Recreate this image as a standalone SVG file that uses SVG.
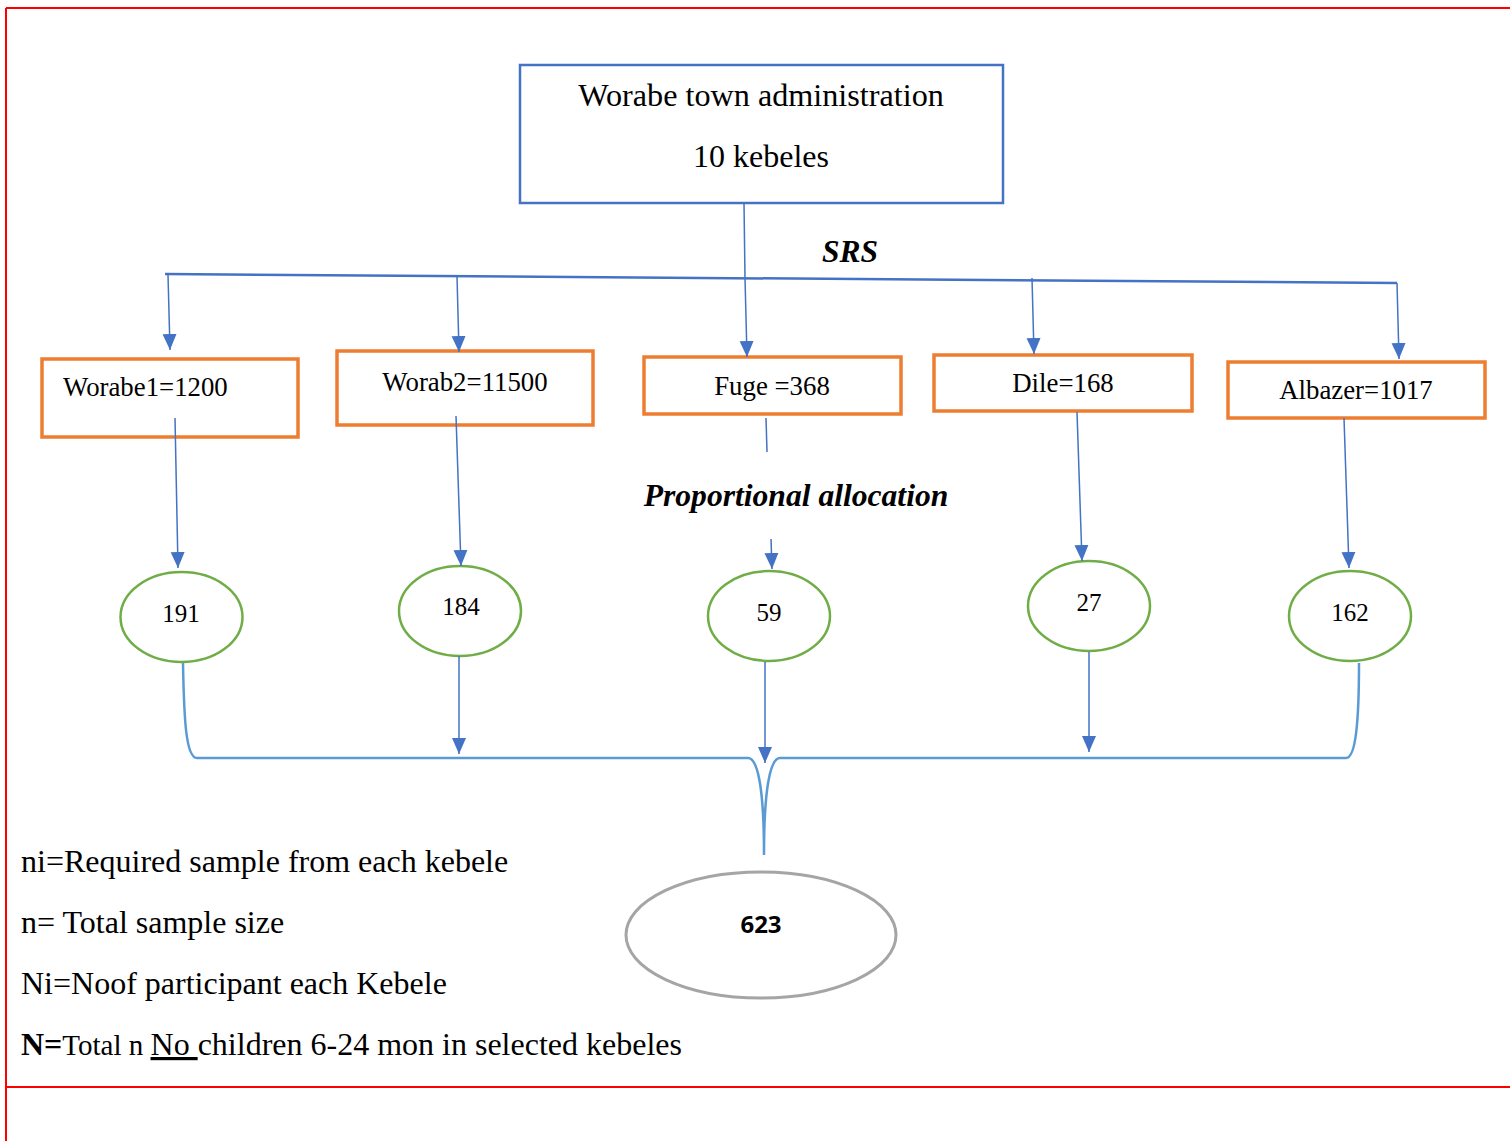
<svg xmlns="http://www.w3.org/2000/svg" width="1510" height="1141" viewBox="0 0 1510 1141">
<style>
.t{font-family:"Liberation Serif","Times New Roman",serif;fill:#000}
.box{fill:#fff;stroke:#ED7D31;stroke-width:3.5}
.ell{fill:#fff;stroke:#70AD47;stroke-width:2.5}
.arr{stroke:#4472C4;stroke-width:1.5;fill:none}
.brace{stroke:#5B9BD5;stroke-width:2.5;fill:none}
</style>
<defs>
<marker id="a2" markerUnits="userSpaceOnUse" markerWidth="16" markerHeight="16" refX="16" refY="8" orient="auto" viewBox="0 0 16 16">
<path d="M0,1 L16,8 L0,15 Z" fill="#4472C4"/>
</marker>
</defs>
<g id="frame" fill="none" stroke="#FF0000" stroke-width="2">
<line x1="6" y1="8" x2="1510" y2="8"/>
<line x1="6" y1="8" x2="6" y2="1141"/>
<line x1="6" y1="1087" x2="1510" y2="1087"/>
</g>
<g id="n-top">
<rect x="520" y="65" width="483" height="138" fill="#fff" stroke="#4472C4" stroke-width="2.5"/>
<text class="t" x="761" y="106" font-size="32.2" text-anchor="middle">Worabe town administration</text>
<text class="t" x="761" y="167" font-size="32" text-anchor="middle">10 kebeles</text>
</g>
<text class="t" x="850" y="262" font-size="31.5" font-weight="bold" font-style="italic" text-anchor="middle">SRS</text>
<g id="n-worabe1"><rect class="box" x="42" y="359" width="256" height="78"/><text class="t" x="63" y="396" font-size="26.8">Worabe1=1200</text></g>
<g id="n-worab2"><rect class="box" x="337" y="351" width="256" height="74"/><text class="t" x="465" y="391" font-size="26.8" text-anchor="middle">Worab2=11500</text></g>
<g id="n-fuge"><rect class="box" x="644" y="357" width="257" height="57"/><text class="t" x="772" y="395" font-size="26.8" text-anchor="middle">Fuge =368</text></g>
<g id="n-dile"><rect class="box" x="934" y="355" width="258" height="56"/><text class="t" x="1063" y="392" font-size="26.8" text-anchor="middle">Dile=168</text></g>
<g id="n-albazer"><rect class="box" x="1228" y="362" width="257" height="56"/><text class="t" x="1356" y="399" font-size="26.8" text-anchor="middle">Albazer=1017</text></g>
<text class="t" x="796" y="506" font-size="31.6" font-weight="bold" font-style="italic" text-anchor="middle">Proportional allocation</text>
<g id="n-191"><ellipse class="ell" cx="181.5" cy="617" rx="61" ry="45"/><text class="t" x="181" y="622" font-size="25" text-anchor="middle">191</text></g>
<g id="n-184"><ellipse class="ell" cx="460" cy="611" rx="61" ry="45"/><text class="t" x="461" y="615" font-size="25" text-anchor="middle">184</text></g>
<g id="n-59"><ellipse class="ell" cx="769" cy="616" rx="61" ry="45"/><text class="t" x="769" y="621" font-size="25" text-anchor="middle">59</text></g>
<g id="n-27"><ellipse class="ell" cx="1089" cy="606" rx="61" ry="45"/><text class="t" x="1089" y="611" font-size="25" text-anchor="middle">27</text></g>
<g id="n-162"><ellipse class="ell" cx="1350" cy="616" rx="61" ry="45"/><text class="t" x="1350" y="621" font-size="25" text-anchor="middle">162</text></g>
<g id="n-623"><ellipse cx="761" cy="935" rx="135" ry="63" fill="#fff" stroke="#A5A5A5" stroke-width="3"/><text x="761" y="933" font-family="'Open Sans','Liberation Sans',sans-serif" font-weight="bold" font-size="24" text-anchor="middle">623</text></g>
<g id="connectors">
<line x1="744" y1="203" x2="745" y2="278" stroke="#4472C4" stroke-width="1.5"/>
<line x1="165" y1="274" x2="1397" y2="283" stroke="#4472C4" stroke-width="2.5"/>
<line class="arr" x1="168" y1="275" x2="170" y2="350" marker-end="url(#a2)"/>
<line class="arr" x1="457" y1="276" x2="459" y2="352" marker-end="url(#a2)"/>
<line class="arr" x1="745" y1="278" x2="747" y2="357" marker-end="url(#a2)"/>
<line class="arr" x1="1032" y1="278" x2="1034" y2="354" marker-end="url(#a2)"/>
<line class="arr" x1="1397" y1="283" x2="1399" y2="359" marker-end="url(#a2)"/>
<line class="arr" x1="175" y1="418" x2="178" y2="568" marker-end="url(#a2)"/>
<line class="arr" x1="456" y1="416" x2="461" y2="566" marker-end="url(#a2)"/>
<line class="arr" x1="766" y1="418" x2="767" y2="452"/>
<line class="arr" x1="771" y1="539" x2="772" y2="569" marker-end="url(#a2)"/>
<line class="arr" x1="1077" y1="412" x2="1082" y2="561" marker-end="url(#a2)"/>
<line class="arr" x1="1344" y1="418" x2="1349" y2="568" marker-end="url(#a2)"/>
<line class="arr" x1="459" y1="656" x2="459" y2="754" marker-end="url(#a2)"/>
<line class="arr" x1="765" y1="662" x2="765" y2="763" marker-end="url(#a2)"/>
<line class="arr" x1="1089" y1="652" x2="1089" y2="752" marker-end="url(#a2)"/>
<path class="brace" d="M183,663 C184,720 186,758 197,758 L748,758 C758,758 764,790 764,855 C764,790 770,758 780,758 L1346,758 C1356,758 1359,720 1359,663"/>
</g>
<g id="legend">
<text class="t" x="21" y="872" font-size="32">ni=Required sample from each kebele</text>
<text class="t" x="21" y="933" font-size="32">n= Total sample size</text>
<text class="t" x="21" y="994" font-size="32">Ni=Noof participant each Kebele</text>
<text class="t" x="21" y="1055" font-size="32"><tspan font-weight="bold">N=</tspan><tspan font-size="29">Total n </tspan><tspan text-decoration="underline">No </tspan>children 6-24 mon in selected kebeles</text>
</g>
</svg>
